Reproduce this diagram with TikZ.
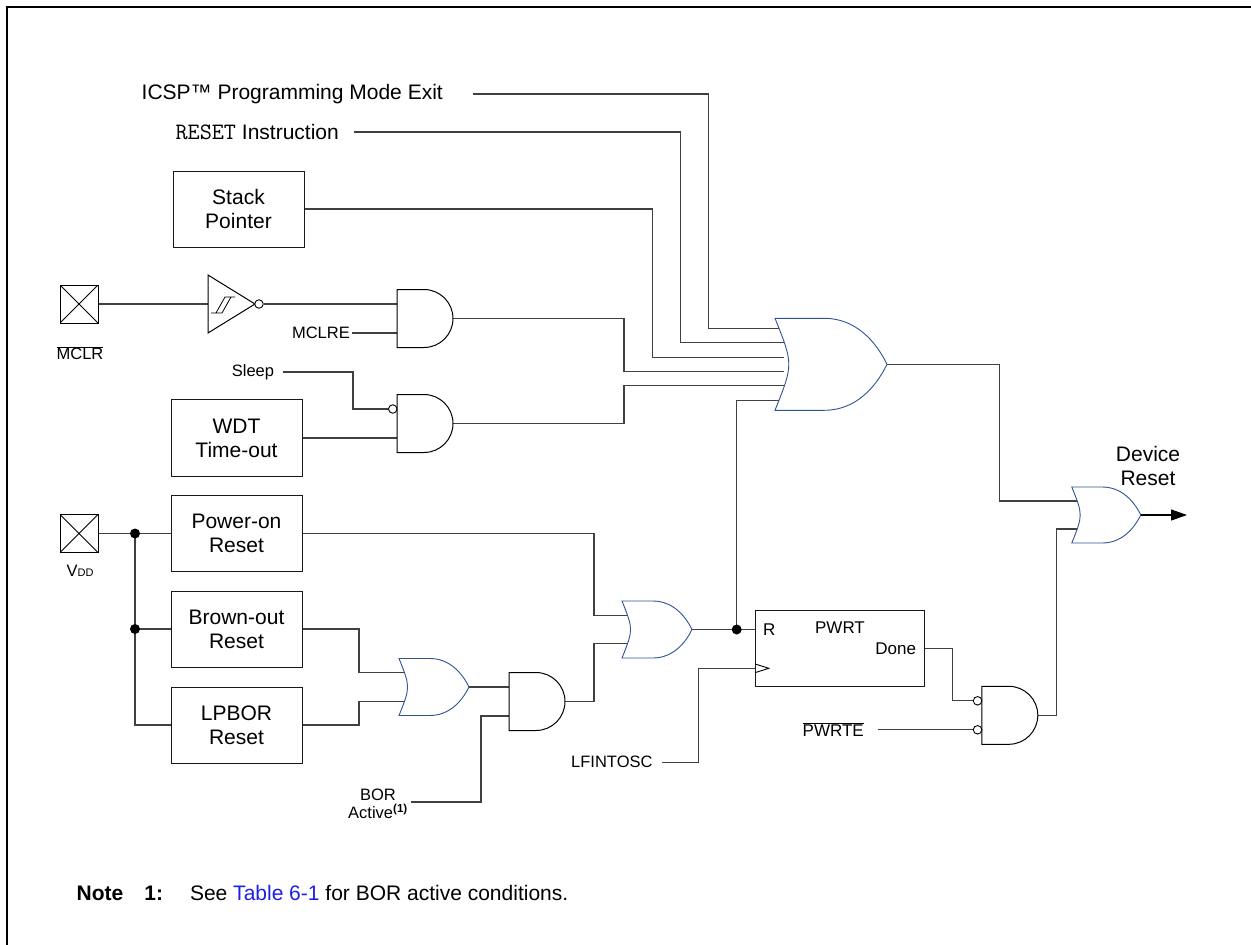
\documentclass[tikz,border=0pt]{standalone}
\usepackage{fontspec}
\setmainfont{Liberation Sans}
\usetikzlibrary{calc,arrows.meta,backgrounds}
\definecolor{gateblue}{RGB}{47,84,150}
\definecolor{wiregray}{RGB}{64,64,64}
\definecolor{tablink}{RGB}{30,30,235}
\newcommand{\barsig}[1]{$\overline{\mbox{#1}}$}

\tikzset{
  pics/andgate/.style={code={
    \draw[black, line width=1pt, fill=white] (0,-29) -- (27,-29) .. controls (43,-29) and (56,-16) .. (56,0) .. controls (56,16) and (43,29) .. (27,29) -- (0,29) -- cycle;
    \coordinate (-in1) at (0,-14.5);
    \coordinate (-in2) at (0,14.5);
    \coordinate (-out) at (56,0);
  }},
  pics/orgate/.style n args={4}{code={
    \draw[gateblue, line width=0.9pt, fill=white] (0,-#2/2) .. controls (0.2*#2,0) .. (0,#2/2) -- (0.44*#1,#2/2) .. controls (0.72*#1,#2/2) and (0.9*#1,#2/4) .. (#1,0) .. controls (0.9*#1,-#2/4) and (0.72*#1,-#2/2) .. (0.44*#1,-#2/2) -- cycle;
    \foreach \k in {1,...,#3}
      \coordinate (-in\k) at (0.1*#2,{(\k-(#3+1)/2)*#4});
    \coordinate (-out) at (#1,0);
  }},
}

\begin{document}
\begin{tikzpicture}[x=1pt, y=-1pt,
  bigtxt/.style={font=\fontsize{21}{24}\selectfont},
  smalltxt/.style={font=\fontsize{16.5}{18.5}\selectfont},
  blk/.style={draw=black!90, line width=1pt, minimum width=131pt, minimum height=76pt, align=center, inner sep=0pt, bigtxt},
  pad/.style={draw, line width=1pt, minimum size=38pt, inner sep=0pt, path picture={\draw (path picture bounding box.north west) -- (path picture bounding box.south east) (path picture bounding box.north east) -- (path picture bounding box.south west);}},
  wire/.style={draw=wiregray, line width=1.1pt},
  dot/.style={circle, fill=black, inner sep=0pt, minimum size=10pt},
  bubble/.style={circle, draw, line width=0.9pt, fill=white, inner sep=0pt, minimum size=8.5pt},
  lbl/.style={inner sep=0pt, smalltxt}]

\useasboundingbox (0,0) rectangle (1251,945);
\draw[line width=2pt] (6.7,945) -- (6.7,6.7) -- (1251,6.7);

% top inputs
\node[bigtxt, inner sep=0pt, anchor=east] (icsp) at (443,94) {ICSP™ Programming Mode Exit};
\node[bigtxt, inner sep=0pt, anchor=east] (rstin) at (339,132) {{\ttfamily\fontsize{23.5}{24}\selectfont RESET} Instruction};
\coordinate (icspw) at (473,94);
\coordinate (rstw) at (354,132);
\node[blk] (stack) at (238.5,209) {Stack\\Pointer};

% MCLR pin
\node[pad] (mclrpad) at (79,304) {};
\node[lbl] at (80,353) {\barsig{MCLR}};
\draw[black, line width=1pt, fill=white] (208,275) -- (255,304) -- (208,333) -- cycle;
\draw[line width=0.8pt] (211,313) -- (222,313) -- (231,297) (216,313) -- (225,297) -- (235,297);
\coordinate (bufin) at (208,304);
\node[bubble] (bufinv) at (259,304) {};
\pic (and1) at (397,318.5) {andgate};
\node[lbl, anchor=east] (mclre) at (350,333) {MCLRE};
\coordinate (mclrew) at (352,333);

% WDT
\node[lbl] (sleep) at (253,372) {Sleep};
\coordinate (sleepw) at (283,372);
\node[blk, minimum height=77pt] (wdt) at (236.5,438) {WDT\\Time-out};
\pic (and2) at (397,423.5) {andgate};
\node[bubble] (sleepinv) at ($(and2-in1)+(-4.25,0)$) {};

% VDD resets
\node[pad] (vddpad) at (79,533.5) {};
\node[lbl] at (80,571) {V{\fontsize{11}{12}\selectfont DD}};
\node[dot] (j1) at (135,533.5) {};
\node[dot] (j2) at (135,629) {};
\node[blk] (por) at (236.5,533.5) {Power-on\\Reset};
\node[blk] (bor) at (236.5,629) {Brown-out\\Reset};
\node[blk] (lpbor) at (236.5,725) {LPBOR\\Reset};
\pic (or1) at (399,687) {orgate={70}{57}{2}{28.5}};
\pic (and3) at (509,701.5) {andgate};
\node[lbl, align=center] (boract) at (378,804) {BOR\\Active\textsuperscript{\textbf{(1)}}};
\coordinate (borw) at (411,802);
\pic (or2) at (622,629.5) {orgate={70}{57}{2}{28.5}};
\node[dot] (jr) at (736.7,629.5) {};

% PWRT
\node[draw=black!90, line width=1pt, minimum width=169pt, minimum height=76pt] (pwrt) at (840.2,648.7) {};
\coordinate (pwrtR) at (pwrt.west |- jr);
\coordinate (pwrtC) at ($(pwrt.west)+(0,19.6)$);
\node[lbl, font=\fontsize{17}{19}\selectfont] (rlbl) at ($(pwrtR)+(14,0)$) {R};
\node[lbl, font=\fontsize{17}{19}\selectfont] (pwrtlbl) at (840,628) {PWRT};
\node[lbl, font=\fontsize{17}{19}\selectfont, anchor=east] (donelbl) at ($(pwrt.east)+(-9,0)$) {Done};
\draw[line width=0.9pt] ($(pwrtC)+(0,-4.3)$) -- ++(13.6,4.3) -- ++(-13.6,4.3);
\node[lbl, anchor=east] (lfin) at (652.7,762.3) {LFINTOSC};
\coordinate (lfinw) at (662,762.3);
\pic (and4) at (981.8,715.3) {andgate};
\node[bubble] (doneinv) at ($(and4-in1)+(-4.25,0)$) {};
\node[bubble] (pwrteinv) at ($(and4-in2)+(-4.25,0)$) {};
\node[lbl, font=\fontsize{17}{19}\selectfont, anchor=east] (pwrte) at (864,729.8) {\barsig{PWRTE}};
\coordinate (pwrtew) at (877.5,729.8);

% reset gates
\pic (orm) at (775,364.3) {orgate={112}{92}{6}{14.4}};
\pic (or3) at (1071.8,515) {orgate={69}{56}{2}{28}};
\coordinate (devout) at (1187,515);
\node[bigtxt, align=center, inner sep=0pt] (devlbl) at (1148,466) {Device\\Reset};

% note
\node[anchor=west, inner sep=0pt, bigtxt] (note) at (76.5,893) {\textbf{Note}\hspace{21pt}\textbf{1:}\hspace{27pt}See \textcolor{tablink}{Table 6-1} for BOR active conditions.};

% wires
\begin{scope}[on background layer]
\draw[wire] (icspw) -| (708.7,0 |- orm-in1) -- (orm-in1);
\draw[wire] (rstw) -| (680.3,0 |- orm-in2) -- (orm-in2);
\draw[wire] (stack.east) -| (652.3,0 |- orm-in3) -- (orm-in3);
\draw[wire] (and1-out) -| (624,0 |- orm-in4) -- (orm-in4);
\draw[wire] (and2-out) -| (624,0 |- orm-in5) -- (orm-in5);
\draw[wire] (jr.center) |- (orm-in6);
\draw[wire] (mclrpad.east) -- (bufin);
\draw[wire] (bufinv.east) -- (and1-in1);
\draw[wire] (mclrew) -- (and1-in2);
\draw[wire] (sleepw) -| (353,0 |- and2-in1) -- (sleepinv.west);
\draw[wire] (wdt.east) -- (and2-in2);
\draw[wire] (vddpad.east) -- (j1.center) -- (por.west);
\draw[wire] (j1.center) |- (lpbor.west);
\draw[wire] (j2.center) -- (bor.west);
\draw[wire] (bor.east) -| (359,0 |- or1-in1) -- (or1-in1);
\draw[wire] (lpbor.east) -| (359,0 |- or1-in2) -- (or1-in2);
\draw[wire] (or1-out) -- (and3-in1);
\draw[wire] (borw) -| (481,0 |- and3-in2) -- (and3-in2);
\draw[wire] (por.east) -| (594,0 |- or2-in1) -- (or2-in1);
\draw[wire] (and3-out) -| (594,0 |- or2-in2) -- (or2-in2);
\draw[wire] (or2-out) -- (jr.center) -- (pwrtR);
\draw[wire] (lfinw) -| (698.9,0 |- pwrtC) -- (pwrtC);
\draw[wire] (pwrt.east) -| (952.5,0 |- and4-in1) -- (doneinv.west);
\draw[wire] (pwrtew) -- (pwrteinv.west);
\draw[wire] (and4-out) -| (1056.4,0 |- or3-in2) -- (or3-in2);
\draw[wire] (orm-out) -| (999.3,0 |- or3-in1) -- (or3-in1);
\draw[wire, draw=black, -{Triangle[length=16pt,width=11pt]}] (or3-out) -- (devout);
\end{scope}
\end{tikzpicture}
\end{document}
